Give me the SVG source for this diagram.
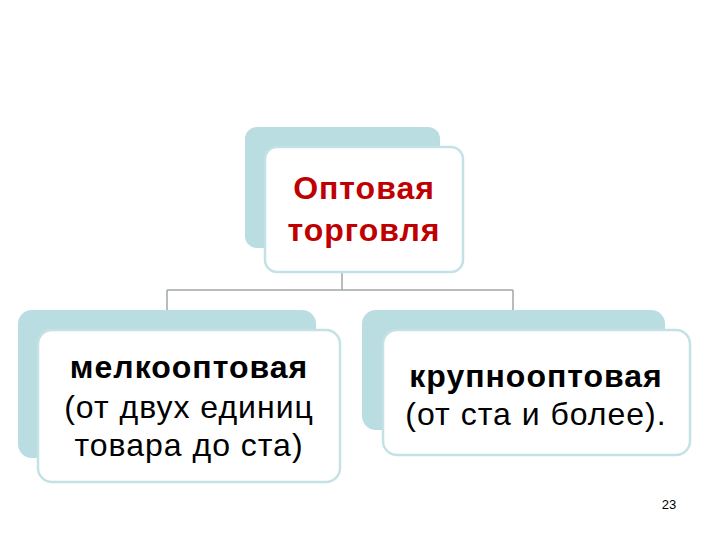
<svg xmlns="http://www.w3.org/2000/svg" width="720" height="540" viewBox="0 0 720 540">
<style>
.back{fill:#b9dde1}
.front{fill:#fff;stroke:#c4e2e6;stroke-width:2.5}
.t{font-family:"Liberation Sans",Arial,sans-serif;text-anchor:middle;font-size:32px;letter-spacing:1px}
.line{fill:none;stroke:#a0a8aa;stroke-width:1.5}
</style>
<rect width="720" height="540" fill="#fff"/>
<g id="connectors">
<path class="line" d="M342 272V290M167 290H513M167 290V310M513 290V310"/>
</g>
<g id="top">
<rect class="back" x="245" y="127" width="195" height="121" rx="12"/>
<rect class="front" x="265" y="147" width="198" height="125" rx="12"/>
<text class="t" x="364" y="199" font-weight="bold" fill="#c00000">Оптовая</text>
<text class="t" x="364" y="241" font-weight="bold" fill="#c00000">торговля</text>
</g>
<g id="left">
<rect class="back" x="18" y="310" width="298" height="148" rx="14"/>
<rect class="front" x="38" y="330" width="302" height="152" rx="14"/>
<text class="t" x="189" y="378" font-weight="bold" fill="#000">мелкооптовая</text>
<text class="t" x="189" y="418" fill="#000">(от двух единиц</text>
<text class="t" x="189" y="456" fill="#000">товара до ста)</text>
</g>
<g id="right">
<rect class="back" x="362" y="310" width="303" height="120" rx="14"/>
<rect class="front" x="383" y="330" width="307" height="125" rx="14"/>
<text class="t" x="536" y="387" font-weight="bold" fill="#000">крупнооптовая</text>
<text class="t" x="536" y="425" fill="#000">(от ста и более).</text>
</g>
<text x="669" y="509" font-family="Liberation Sans,Arial,sans-serif" text-anchor="middle" font-size="13" fill="#000">23</text>
</svg>
